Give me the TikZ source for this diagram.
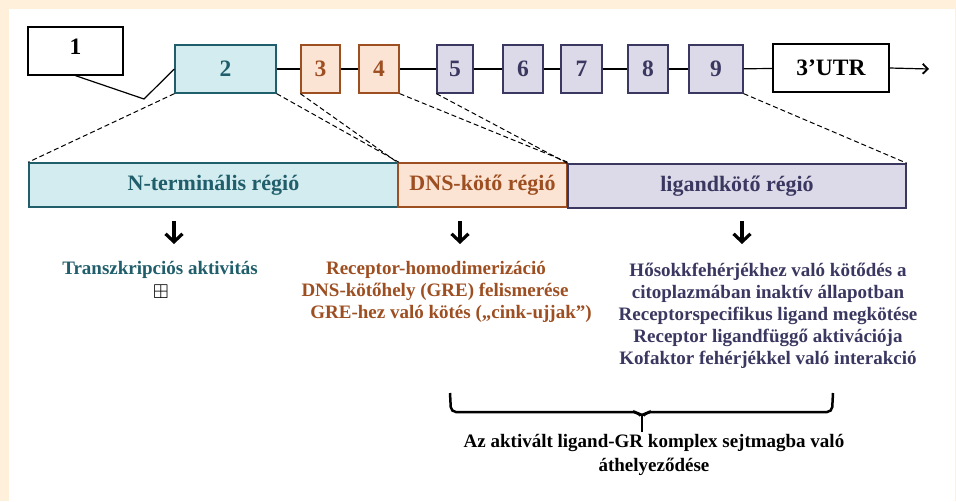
\documentclass[tikz,border=0pt]{standalone}
\usepackage{fontspec}
\setmainfont{Liberation Serif}
\usepackage{amssymb}
\usetikzlibrary{arrows.meta,calc}

\definecolor{bgbeige}{HTML}{FEF0DA}
\definecolor{ntteal}{HTML}{1F5E6A}
\definecolor{ntfill}{HTML}{D3ECF0}
\definecolor{dnsbrown}{HTML}{9E4F22}
\definecolor{dnsfill}{HTML}{FCE4D4}
\definecolor{lbdpurple}{HTML}{3A3760}
\definecolor{lbdfill}{HTML}{DCD9E8}

\tikzset{
  exon/.style={draw, line width=1.3pt, minimum height=48pt, inner sep=0pt, font=\fontsize{23.5}{23.5}\selectfont\bfseries},
  region/.style={draw, line width=1.6pt, minimum height=44pt, inner sep=0pt, font=\fontsize{22}{22}\selectfont\bfseries},
  zoomline/.style={line width=1pt, dash pattern=on 5pt off 3pt},
  downarrow/.style={line width=3.2pt, -{Straight Barb[length=8pt,width=17pt,line width=3.2pt]}},
  role/.style={font=\fontsize{19}{22}\selectfont\bfseries, align=center, inner sep=0pt},
}

\begin{document}
\begin{tikzpicture}[x=1pt,y=-1pt]
			%%%%% START %%%%%
			\fill[bgbeige] (0,0) rectangle (956,501);
			\fill[white] (9,9) rectangle (955,501);
			\useasboundingbox (0,0) rectangle (956,501);
			
			% exons
			\node[exon, fill=white, minimum width=95pt, text depth=8pt] (e1) at (75.5,51) {1};
			\node[exon, draw=ntteal, fill=ntfill, text=ntteal, minimum width=101pt] (e2) at (225.5,69) {2};
			\node[exon, draw=dnsbrown, fill=dnsfill, text=dnsbrown, minimum width=39pt] (e3) at (320.5,69) {3};
			\node[exon, draw=dnsbrown, fill=dnsfill, text=dnsbrown, minimum width=40pt] (e4) at (379,69) {4};
			\node[exon, draw=lbdpurple, fill=lbdfill, text=lbdpurple, minimum width=36pt] (e5) at (455,69) {5};
			\node[exon, draw=lbdpurple, fill=lbdfill, text=lbdpurple, minimum width=40pt] (e6) at (523,69) {6};
			\node[exon, draw=lbdpurple, fill=lbdfill, text=lbdpurple, minimum width=41pt] (e7) at (581.5,69) {7};
			\node[exon, draw=lbdpurple, fill=lbdfill, text=lbdpurple, minimum width=40pt] (e8) at (648,69) {8};
			\node[exon, draw=lbdpurple, fill=lbdfill, text=lbdpurple, minimum width=54pt] (e9) at (716,69) {9};
			\node[exon, fill=white, minimum width=116pt] (utr) at (831,68) {3'UTR};
			
			\coordinate (kink) at (144,99);
			\coordinate (tail) at (929,69);
			\draw[line width=1.2pt] (e1.south) -- (kink) -- (e2.west);
			\draw[line width=1.2pt] (e2) -- (e3);
			\draw[line width=1.2pt] (e3) -- (e4);
			\draw[line width=1.2pt] (e4) -- (e5);
			\draw[line width=1.2pt] (e5) -- (e6);
			\draw[line width=1.2pt] (e6) -- (e7);
			\draw[line width=1.2pt] (e7) -- (e8);
			\draw[line width=1.2pt] (e8) -- (e9);
			\draw[line width=1.2pt] (e9) -- (utr);
			\draw[line width=1.2pt, -{Straight Barb[length=5pt,width=10pt,line width=1.8pt]}] (utr.east) -- (tail);
			
			% protein regions
			\node[region, draw=ntteal, fill=ntfill, text=ntteal, minimum width=369pt] (nt) at (213.5,185) {N-terminális régió};
			\node[region, draw=dnsbrown, fill=dnsfill, text=dnsbrown, minimum width=169pt] (dns) at (482.5,185) {DNS-kötő régió};
			\node[region, draw=lbdpurple, fill=lbdfill, text=lbdpurple, minimum width=338pt] (lbd) at (737,186) {ligandkötő régió};
			
			\draw[zoomline] (e2.south west) -- (nt.north west);
			\draw[zoomline] (e2.south east) -- (nt.north east);
			\draw[zoomline] (e3.south west) -- (dns.north west);
			\draw[zoomline] (e4.south east) -- (dns.north east);
			\draw[zoomline] (e5.south west) -- (lbd.north west);
			\draw[zoomline] (e9.south east) -- (lbd.north east);
			
			% arrows
			\coordinate (a1) at (174,221);
			\coordinate (a2) at (460,221);
			\coordinate (a3) at (742,221);
			\draw[downarrow] (a1) -- ++(0,23);
			\draw[downarrow] (a2) -- ++(0,23);
			\draw[downarrow] (a3) -- ++(0,23);
			
			% functions
			\node[role, text=ntteal] (ta) at (160,270) {Transzkripciós aktivitás};
			\node[inner sep=0pt, font=\fontsize{20}{20}\selectfont] (tabox) at (161,292) {$\boxplus$};
			
			\node[role, text=dnsbrown] (dns1) at (436,270) {Receptor-homodimerizáció};
			\node[role, text=dnsbrown] (dns2) at (435,292) {DNS-kötőhely (GRE) felismerése};
			\node[role, text=dnsbrown] (dns3) at (451,314) {GRE-hez való kötés („cink-ujjak”)};
			
			\node[role, text=lbdpurple] (lbdtext) at (768,316) {Hősokkfehérjékhez való kötődés a\\citoplazmában inaktív állapotban\\Receptorspecifikus ligand megkötése\\Receptor ligandfüggő aktivációja\\Kofaktor fehérjékkel való interakció};
			
			% bracket
			\draw[line width=2.5pt, rounded corners=5pt] (450,393) -- (451,412) -- (637,412) -- (642,417) -- (647,412) -- (832,412) -- (833,393);
			\draw[line width=2.5pt] (642,415) -- (642,432);
			
			\node[role, text=black, font=\fontsize{19}{24}\selectfont\bfseries] (move) at (654,455) {Az aktivált ligand-GR komplex sejtmagba való\\áthelyeződése};
			%%%%% END %%%%%
\end{tikzpicture}
\end{document}
